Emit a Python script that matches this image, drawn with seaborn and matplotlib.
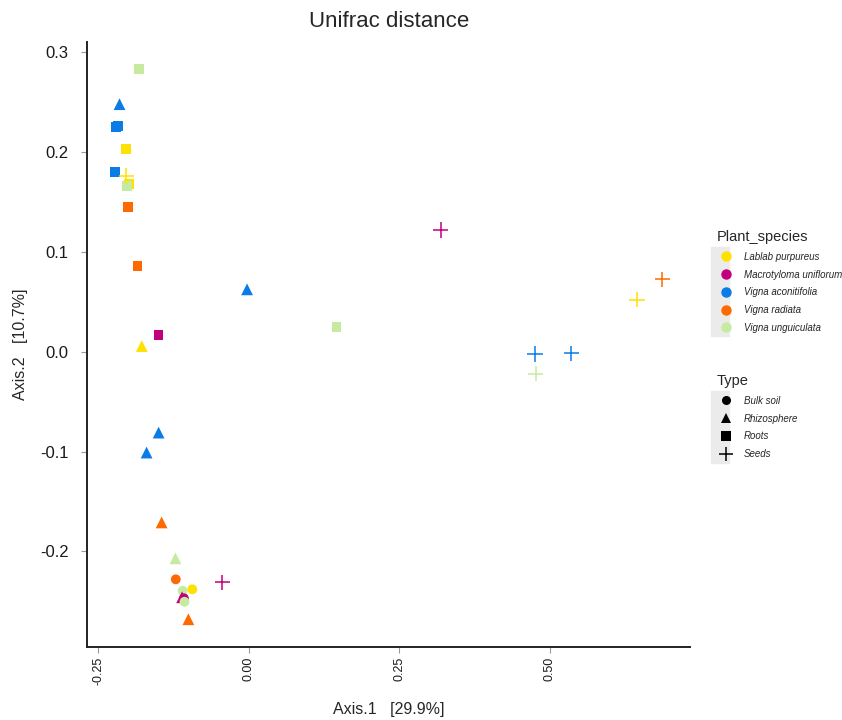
import pandas as pd
import numpy as np
import matplotlib
matplotlib.use('Agg')
import matplotlib.pyplot as plt
import seaborn as sns
from matplotlib.lines import Line2D
from matplotlib.legend_handler import HandlerTuple

# %%
species = ['Vigna unguiculata', 'Vigna aconitifolia', 'Vigna aconitifolia', 'Vigna aconitifolia',
           'Lablab purpureus', 'Vigna aconitifolia', 'Lablab purpureus', 'Lablab purpureus',
           'Vigna unguiculata', 'Vigna radiata', 'Vigna radiata', 'Vigna aconitifolia',
           'Macrotyloma uniflorum', 'Lablab purpureus', 'Vigna unguiculata', 'Vigna aconitifolia',
           'Vigna aconitifolia', 'Vigna radiata', 'Vigna unguiculata', 'Vigna radiata',
           'Macrotyloma uniflorum', 'Vigna unguiculata', 'Lablab purpureus', 'Macrotyloma uniflorum',
           'Macrotyloma uniflorum', 'Vigna unguiculata', 'Vigna radiata', 'Macrotyloma uniflorum',
           'Vigna radiata', 'Lablab purpureus', 'Vigna aconitifolia', 'Vigna aconitifolia',
           'Vigna unguiculata']
sample_type = ['Roots', 'Rhizosphere', 'Roots', 'Roots',
               'Roots', 'Roots', 'Seeds', 'Roots',
               'Roots', 'Roots', 'Roots', 'Rhizosphere',
               'Roots', 'Rhizosphere', 'Roots', 'Rhizosphere',
               'Rhizosphere', 'Rhizosphere', 'Rhizosphere', 'Bulk soil',
               'Seeds', 'Bulk soil', 'Bulk soil', 'Rhizosphere',
               'Bulk soil', 'Bulk soil', 'Rhizosphere', 'Seeds',
               'Seeds', 'Seeds', 'Seeds', 'Seeds',
               'Seeds']
axis1 = [-0.183, -0.215, -0.221, -0.218, -0.204, -0.222, -0.204, -0.199,
         -0.203, -0.201, -0.185, -0.003, -0.150, -0.178, 0.1455, -0.150,
         -0.170, -0.145, -0.122, -0.1215, -0.044, -0.110, -0.094, -0.111,
         -0.108, -0.107, -0.1005, 0.319, 0.687, 0.645, 0.4755, 0.536, 0.477]
axis2 = [0.283, 0.248, 0.225, 0.226, 0.203, 0.180, 0.176, 0.168,
         0.166, 0.145, 0.086, 0.0625, 0.0167, 0.0057, 0.0245, -0.081,
         -0.101, -0.171, -0.207, -0.228, -0.231, -0.2395, -0.238, -0.246,
         -0.247, -0.2505, -0.268, 0.122, 0.0725, 0.052, -0.0023, -0.0016, -0.022]

species_order = ['Lablab purpureus', 'Macrotyloma uniflorum', 'Vigna aconitifolia',
                 'Vigna radiata', 'Vigna unguiculata']
species_colors = ['#FFE100', '#C2007D', '#0A7CE5', '#FF6A00', '#C6EBA0']
type_order = ['Bulk soil', 'Rhizosphere', 'Roots', 'Seeds']
type_markers = ['o', '^', 's', '+']

df = pd.DataFrame({'Plant_species': species, 'Type': sample_type,
                   'Axis.1': axis1, 'Axis.2': axis2})
pal = dict(zip(species_order, species_colors))
mk = dict(zip(type_order, type_markers))

# %%
sns.set_style('white')
plt.rcParams['font.family'] = ['Liberation Sans', 'DejaVu Sans']

fig = plt.figure(figsize=(8.42, 7.2), dpi=100)
ax = fig.add_axes([0.103, 0.1018, 0.717, 0.8403])

filled = df[df['Type'] != 'Seeds']
seeds = df[df['Type'] == 'Seeds']
# triangles look bigger in the original, so give them a bit more area
sns.scatterplot(data=filled, x='Axis.1', y='Axis.2', hue='Plant_species', style='Type',
                size='Type', sizes={'Bulk soil': 50, 'Rhizosphere': 72, 'Roots': 48},
                palette=pal, markers={k: mk[k] for k in type_order[:3]},
                linewidth=0, legend=False, ax=ax)
sns.scatterplot(data=seeds, x='Axis.1', y='Axis.2', hue='Plant_species',
                palette=pal, marker='+', s=120, linewidth=1.1, legend=False, ax=ax)

ax.set_xlim(-0.2695, 0.734)
ax.set_ylim(-0.2955, 0.3106)
ax.set_xticks([-0.25, 0.0, 0.25, 0.5])
ax.set_xticklabels(['-0.25', '0.00', '0.25', '0.50'], rotation=90, fontsize=9)
ax.set_yticks([-0.2, -0.1, 0.0, 0.1, 0.2, 0.3])
ax.set_yticklabels(['-0.2', '-0.1', '0.0', '0.1', '0.2', '0.3'], fontsize=12)
ax.tick_params(axis='both', length=4, width=0.8, color='#999999', labelcolor='#1a1a1a',
               direction='out', bottom=True, left=True)
ax.tick_params(axis='x', pad=3)
ax.tick_params(axis='y', pad=9)
for side in ['top', 'right']:
    ax.spines[side].set_visible(False)
for side in ['left', 'bottom']:
    ax.spines[side].set_color('#222222')
    ax.spines[side].set_linewidth(1.4)

ax.set_xlabel('Axis.1   [29.9%]', fontsize=11.5)
ax.set_ylabel('Axis.2   [10.7%]', fontsize=11.5)
ax.xaxis.set_label_coords(0.5, -0.092)
ax.yaxis.set_label_coords(-0.097, 0.5)
fig.text(0.462, 1 - 21.7 / 720, 'Unifrac distance', ha='center', va='center', fontsize=16)

# legends with grey key background like ggplot
key_bg = dict(marker='s', ms=13.2, color='#EBEBEB', ls='')
sp_handles = [(Line2D([], [], **key_bg), Line2D([], [], marker='o', ms=6.5, color=c, ls=''))
              for c in species_colors]
ty_handles = [(Line2D([], [], **key_bg),
               Line2D([], [], marker=m, ms=9.5 if m == '+' else 6.5, color='black', ls='',
                      markeredgewidth=1.1 if m == '+' else 0))
              for m in type_markers]
common = dict(frameon=False, handler_map={tuple: HandlerTuple(ndivide=None)},
              prop={'style': 'italic', 'size': 7}, title_fontsize=10.5,
              handlelength=1.2, handletextpad=1.55, labelspacing=0.8,
              borderpad=0, borderaxespad=0, alignment='left', loc='upper left')
leg1 = fig.legend(sp_handles, species_order, title='Plant_species',
                  bbox_to_anchor=(717 / 842, 1 - 230 / 720), **common)
leg2 = fig.legend(ty_handles, type_order, title='Type',
                  bbox_to_anchor=(717 / 842, 1 - 374 / 720), **common)

plt.savefig('out.png', dpi=100)
